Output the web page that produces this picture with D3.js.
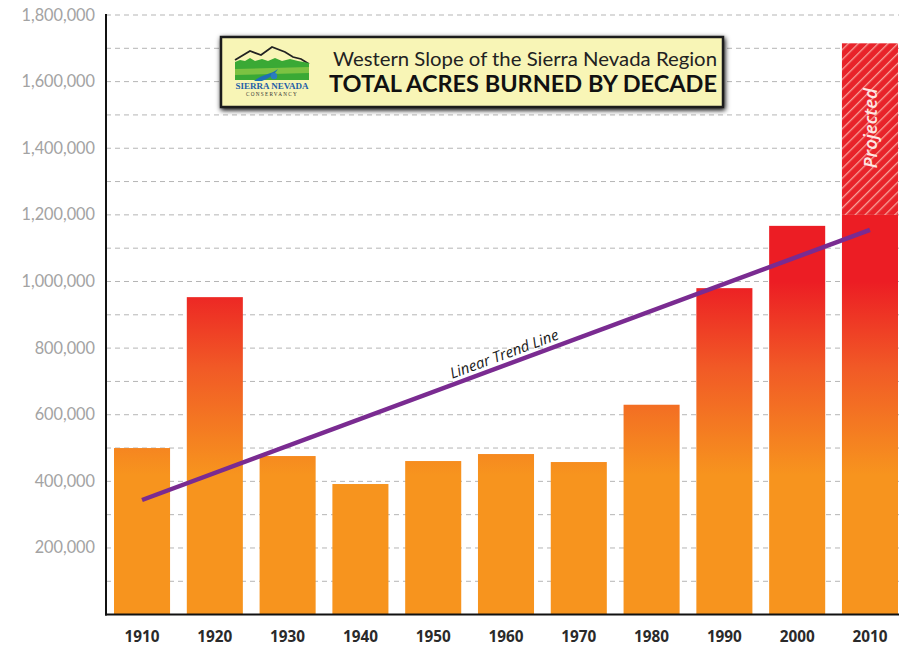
<!DOCTYPE html>
<html>
<head>
<meta charset="utf-8">
<script src="https://cdn.jsdelivr.net/npm/d3@7"></script>
<style>
  html, body { margin: 0; padding: 0; background: #fff; }
  svg { display: block; }
</style>
</head>
<body>
<svg id="chart" width="899" height="648"></svg>
<script>
// ---- data ----
const decades = ["1910","1920","1930","1940","1950","1960","1970","1980","1990","2000","2010"];
const acres = [500000, 953000, 476000, 392000, 461000, 482000, 458000, 630000, 980000, 1167000, 1200000];
const projectedDecade = "2010";
const projectedValue = 1715000;
const trendStart = { decade: "1910", value: 344000 };
const trendEnd = { decade: "2010", value: 1155000 };
const yTickValues = [200000, 400000, 600000, 800000, 1000000, 1200000, 1400000, 1600000, 1800000];
const gridValues = d3.range(100000, 1800001, 100000);
const titleLine1 = "Western Slope of the Sierra Nevada Region";
const titleLine2 = "TOTAL ACRES BURNED BY DECADE";

// ---- layout ----
const svg = d3.select("#chart");
const plotLeft = 106, plotRight = 906, plotTop = 15, plotBottom = 614.6;

const x = d3.scaleBand().domain(decades).range([plotLeft, plotRight]).paddingInner(0.23).paddingOuter(0.11);
const y = d3.scaleLinear().domain([0, 1800000]).range([plotBottom, plotTop]);

const defs = svg.append("defs");
const grad = defs.append("linearGradient").attr("id", "barGrad")
  .attr("gradientUnits", "userSpaceOnUse")
  .attr("x1", 0).attr("x2", 0)
  .attr("y1", y(1000000)).attr("y2", y(420000));
grad.append("stop").attr("offset", 0).attr("stop-color", "#ec1d24");
grad.append("stop").attr("offset", 0.45).attr("stop-color", "#f15a26");
grad.append("stop").attr("offset", 1).attr("stop-color", "#f7941e");

const hatch = defs.append("pattern").attr("id", "hatch")
  .attr("patternUnits", "userSpaceOnUse").attr("width", 7).attr("height", 7)
  .attr("patternTransform", "rotate(45)");
hatch.append("rect").attr("width", 7).attr("height", 7).attr("fill", "#e8232a");
hatch.append("rect").attr("x", 0).attr("width", 1.3).attr("height", 7).attr("fill", "#f7a09a");

const shadow = defs.append("filter").attr("id", "shadow").attr("x", "-10%").attr("y", "-30%").attr("width", "120%").attr("height", "160%");
shadow.append("feGaussianBlur").attr("in", "SourceAlpha").attr("stdDeviation", 2.5);
shadow.append("feOffset").attr("dx", 1).attr("dy", 2).attr("result", "b");
const fm = shadow.append("feMerge");
fm.append("feMergeNode").attr("in", "b");
fm.append("feMergeNode").attr("in", "SourceGraphic");

// grid lines
svg.append("g").selectAll("line").data(gridValues).join("line")
  .attr("x1", plotLeft).attr("x2", 899)
  .attr("y1", d => y(d)).attr("y2", d => y(d))
  .attr("stroke", "#b5b5b5").attr("stroke-width", 1)
  .attr("stroke-dasharray", "5,4");

// bars
svg.append("g").selectAll("rect").data(decades).join("rect")
  .attr("x", d => x(d))
  .attr("width", x.bandwidth())
  .attr("y", (d, i) => y(acres[i]))
  .attr("height", (d, i) => y(0) - y(acres[i]))
  .attr("fill", "url(#barGrad)");

// projected part
svg.append("rect")
  .attr("x", x(projectedDecade))
  .attr("width", x.bandwidth())
  .attr("y", y(projectedValue))
  .attr("height", y(acres[decades.indexOf(projectedDecade)]) - y(projectedValue))
  .attr("fill", "url(#hatch)");

svg.append("text")
  .attr("transform", `translate(${x(projectedDecade) + x.bandwidth() / 2 + 7},${y(1460000)}) rotate(-90)`)
  .attr("text-anchor", "middle")
  .attr("font-family", "Open Sans, sans-serif")
  .attr("font-style", "italic").attr("font-weight", 600)
  .attr("font-size", 18.5).attr("fill", "#fde6e2")
  .text("Projected");

// axes lines
svg.append("line").attr("x1", plotLeft).attr("x2", plotLeft).attr("y1", plotTop - 1).attr("y2", plotBottom + 1)
  .attr("stroke", "#111").attr("stroke-width", 2);
svg.append("line").attr("x1", plotLeft - 1).attr("x2", 899).attr("y1", plotBottom).attr("y2", plotBottom)
  .attr("stroke", "#111").attr("stroke-width", 2);

// y labels
svg.append("g").selectAll("text").data(yTickValues).join("text")
  .attr("x", 95).attr("y", d => y(d) + 5.5)
  .attr("text-anchor", "end")
  .attr("font-family", "Lato, sans-serif")
  .attr("font-size", 16.3).attr("fill", "#a3a3a3")
  .text(d => d3.format(",")(d));

// x labels
svg.append("g").selectAll("text").data(decades).join("text")
  .attr("x", d => x(d) + x.bandwidth() / 2).attr("y", 642)
  .attr("text-anchor", "middle")
  .attr("font-family", "Open Sans, sans-serif")
  .attr("font-weight", 700)
  .attr("font-size", 15.3).attr("fill", "#2a2a2a")
  .text(d => d);

// trend line
const tx1 = x(trendStart.decade) + x.bandwidth() / 2, ty1 = y(trendStart.value);
const tx2 = x(trendEnd.decade) + x.bandwidth() / 2, ty2 = y(trendEnd.value);
svg.append("line").attr("x1", tx1).attr("y1", ty1).attr("x2", tx2).attr("y2", ty2)
  .attr("stroke", "#7a2b91").attr("stroke-width", 4.5);

const ang = Math.atan2(ty2 - ty1, tx2 - tx1) * 180 / Math.PI;
const lx = 506, ly = ty1 + (ty2 - ty1) * ((lx - tx1) / (tx2 - tx1)) - 6;
svg.append("text")
  .attr("transform", `translate(${lx},${ly}) rotate(${ang})`)
  .attr("text-anchor", "middle")
  .attr("font-family", "Open Sans, sans-serif")
  .attr("font-style", "italic")
  .attr("font-size", 15).attr("fill", "#1a1a1a")
  .text("Linear Trend Line");

// title box
const tb = svg.append("g");
tb.append("rect").attr("x", 221).attr("y", 37).attr("width", 502).attr("height", 70)
  .attr("fill", "#f8f5b6").attr("stroke", "#1e1e1e").attr("stroke-width", 2.5)
  .attr("filter", "url(#shadow)");

// logo
const lg = tb.append("g");
lg.append("path").attr("d", "M235,60 L250,51 L261,55 L272,47 L285,52 L293,57 L301,59 L309,64")
  .attr("fill", "none").attr("stroke", "#222").attr("stroke-width", 1.8);
lg.append("path").attr("d", "M235,62 L240,60 L245,61 L250,58 L255,61 L262,59 L268,61 L275,58 L282,61 L290,59 L298,61 L309,63 L309,80 L235,80 Z")
  .attr("fill", "#3aa935");
lg.append("path").attr("d", "M235,69 L309,67 L309,73 L235,75 Z").attr("fill", "#7cc242");
lg.append("path").attr("d", "M254,81 C262,74 270,75 278,69 C273,77 266,79 262,81 Z").attr("fill", "#1f6fb4");
lg.append("circle").attr("cx", 274).attr("cy", 76).attr("r", 3.2).attr("fill", "#2a7dc0");
lg.append("text").attr("x", 272).attr("y", 89).attr("text-anchor", "middle")
  .attr("font-family", "Liberation Serif, serif").attr("font-size", 9).attr("font-weight", 700)
  .attr("fill", "#1f5fa8").text("SIERRA NEVADA");
lg.append("text").attr("x", 272).attr("y", 95.5).attr("text-anchor", "middle")
  .attr("font-family", "Liberation Serif, serif").attr("font-size", 5.2).attr("letter-spacing", 1.3)
  .attr("fill", "#333").text("CONSERVANCY");

tb.append("text").attr("x", 525).attr("y", 65.5).attr("text-anchor", "middle")
  .attr("font-family", "Lato, sans-serif").attr("font-size", 18.5).attr("fill", "#222")
  .attr("textLength", 384).attr("lengthAdjust", "spacingAndGlyphs")
  .text(titleLine1);
tb.append("text").attr("x", 523).attr("y", 91.5).attr("text-anchor", "middle")
  .attr("font-family", "Lato, sans-serif").attr("font-weight", 700).attr("font-size", 22).attr("fill", "#111")
  .attr("textLength", 388).attr("lengthAdjust", "spacingAndGlyphs")
  .text(titleLine2);
</script>
</body>
</html>
